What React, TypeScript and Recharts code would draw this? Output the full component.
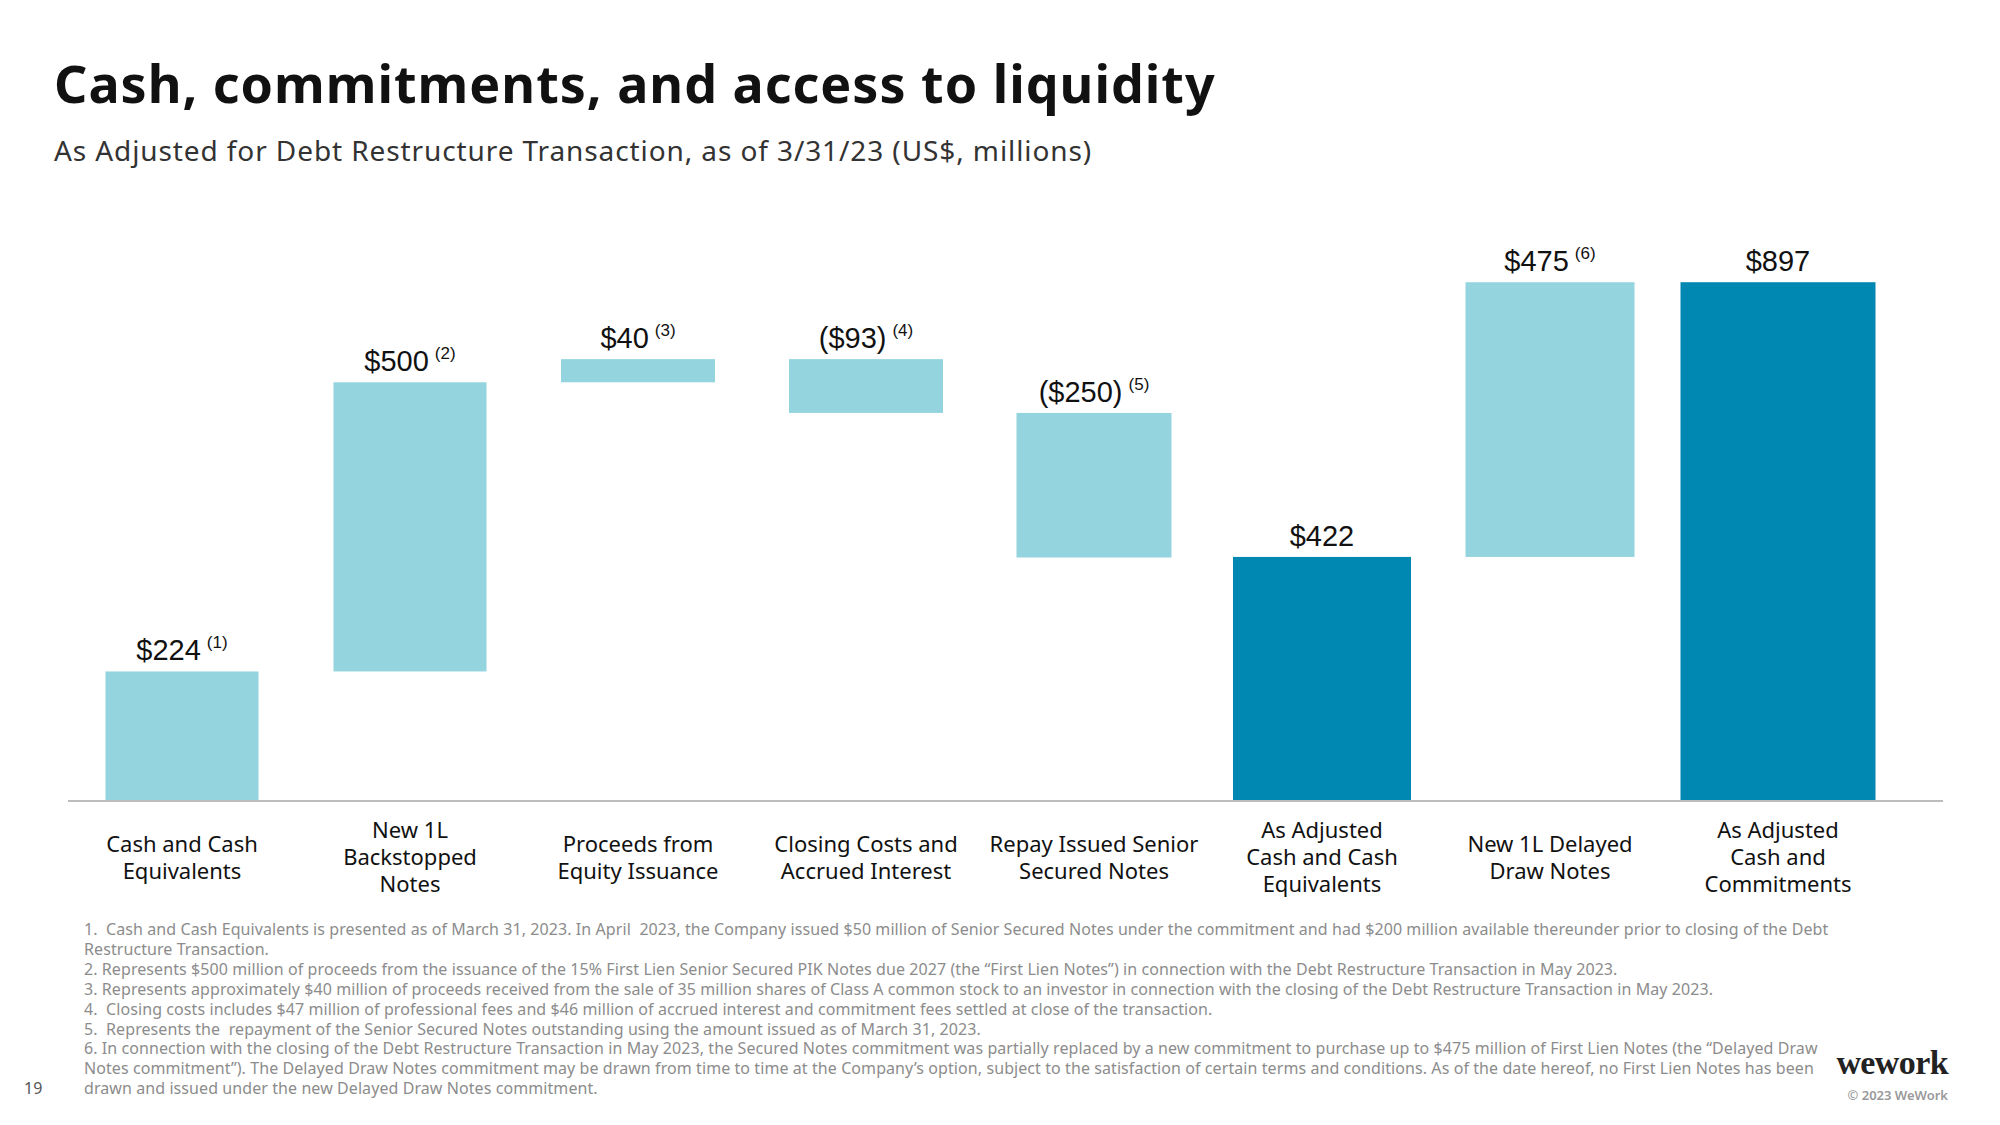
import React from "react";
import { BarChart, Bar, XAxis, YAxis, LabelList } from "recharts";

// Waterfall values, US$ millions, as of 3/31/23
const categories = [
  "Cash and Cash\nEquivalents",
  "New 1L\nBackstopped\nNotes",
  "Proceeds from\nEquity Issuance",
  "Closing Costs and\nAccrued Interest",
  "Repay Issued Senior\nSecured Notes",
  "As Adjusted\nCash and Cash\nEquivalents",
  "New 1L Delayed\nDraw Notes",
  "As Adjusted\nCash and\nCommitments",
];
const amounts = [224, 500, 40, -93, -250, 422, 475, 897];
const kinds = ["start", "delta", "delta", "delta", "delta", "total", "delta", "total"];
const noteRefs = ["(1)", "(2)", "(3)", "(4)", "(5)", "", "(6)", ""];

const footnotes = [
  "1.  Cash and Cash Equivalents is presented as of March 31, 2023. In April  2023, the Company issued $50 million of Senior Secured Notes under the commitment and had $200 million available thereunder prior to closing of the Debt",
  "Restructure Transaction.",
  "2. Represents $500 million of proceeds from the issuance of the 15% First Lien Senior Secured PIK Notes due 2027 (the \u201cFirst Lien Notes\u201d) in connection with the Debt Restructure Transaction in May 2023.",
  "3. Represents approximately $40 million of proceeds received from the sale of 35 million shares of Class A common stock to an investor in connection with the closing of the Debt Restructure Transaction in May 2023.",
  "4.  Closing costs includes $47 million of professional fees and $46 million of accrued interest and commitment fees settled at close of the transaction.",
  "5.  Represents the  repayment of the Senior Secured Notes outstanding using the amount issued as of March 31, 2023.",
  "6. In connection with the closing of the Debt Restructure Transaction in May 2023, the Secured Notes commitment was partially replaced by a new commitment to purchase up to $475 million of First Lien Notes (the \u201cDelayed Draw",
  "Notes commitment\u201d). The Delayed Draw Notes commitment may be drawn from time to time at the Company\u2019s option, subject to the satisfaction of certain terms and conditions. As of the date hereof, no First Lien Notes has been",
  "drawn and issued under the new Delayed Draw Notes commitment.",
];

// styling
const LIGHT = "#94d4df";
const DARK = "#0088b2";
const barWidths = [153, 153, 154, 154, 155, 178, 169, 195];
const sans = "'Noto Sans', sans-serif";
const valueFont = "'Liberation Sans', Arial, sans-serif";

let running = 0;
const rows = categories.map((name, i) => {
  const v = amounts[i];
  if (kinds[i] !== "delta") {
    running = v;
    return { name, idx: i, base: 0, size: v };
  }
  const start = running;
  running += v;
  return { name, idx: i, base: Math.min(start, running), size: Math.abs(v) };
});

const fmt = (v: number) => (v < 0 ? `($${-v})` : `$${v}`);

const BarShape = (props: any) => {
  const { x, y, width, height, payload } = props;
  const i = payload.idx;
  const w = barWidths[i];
  const cx = x + width / 2;
  return (
    <rect
      x={cx - w / 2}
      y={y}
      width={w}
      height={height}
      fill={kinds[i] === "total" ? DARK : LIGHT}
    />
  );
};

const ValueLabel = (props: any) => {
  const { x, y, width, value } = props;
  const i = value as number;
  return (
    <text
      x={x + width / 2}
      y={y - 11}
      textAnchor="middle"
      fontFamily={valueFont}
      fontSize={29}
      fill="#111"
    >
      <tspan>{fmt(amounts[i])}</tspan>
      {noteRefs[i] && (
        <tspan dx={6} dy={-12} fontSize={17}>
          {noteRefs[i]}
        </tspan>
      )}
    </text>
  );
};

const CategoryTick = (props: any) => {
  const { x, y, payload } = props;
  const lines = String(payload.value).split("\n");
  const lineH = 27;
  const first = y + 56 - ((lines.length - 1) * lineH) / 2;
  return (
    <text textAnchor="middle" fontFamily={sans} fontSize={22} fill="#111">
      {lines.map((l, k) => (
        <tspan key={k} x={x} y={first + k * lineH}>
          {l}
        </tspan>
      ))}
    </text>
  );
};

export default function App() {
  return (
    <div
      style={{
        position: "absolute",
        left: 0,
        top: 0,
        width: 2000,
        height: 1125,
        background: "#fff",
        overflow: "hidden",
      }}
    >
      <svg
        width={2000}
        height={1125}
        style={{ position: "absolute", left: 0, top: 0 }}
      >
        <text
          x={54}
          y={103}
          fontFamily={sans}
          fontWeight={700}
          fontSize={52}
          letterSpacing={1}
          fill="#111"
        >
          Cash, commitments, and access to liquidity
        </text>
        <text
          x={54}
          y={161}
          fontFamily={sans}
          fontSize={28}
          letterSpacing={0.9}
          fill="#333"
        >
          As Adjusted for Debt Restructure Transaction, as of 3/31/23 (US$, millions)
        </text>
        {footnotes.map((f, k) => (
          <text
            key={k}
            x={84}
            y={935 + k * 19.9}
            fontFamily={sans}
            fontSize={16}
            letterSpacing={0.08}
            fill="#8c8c8c"
            style={{ whiteSpace: "pre" }}
          >
            {f}
          </text>
        ))}
        <text x={24} y={1094} fontFamily={sans} fontSize={16} fill="#555">
          19
        </text>
        <text
          x={1948}
          y={1074}
          textAnchor="end"
          fontFamily="'Liberation Serif', serif"
          fontWeight={700}
          fontSize={34}
          letterSpacing={-0.6}
          fill="#222"
        >
          wework
        </text>
        <text
          x={1948}
          y={1100}
          textAnchor="end"
          fontFamily={sans}
          fontWeight={600}
          fontSize={13}
          fill="#999"
        >
          © 2023 WeWork
        </text>
      </svg>
      <div style={{ position: "absolute", left: 0, top: 0 }}>
        <BarChart
          width={2000}
          height={1125}
          data={rows}
          margin={{ top: 240, right: 57, bottom: 204, left: 68 }}
          barSize={154}
        >
          <XAxis
            dataKey="name"
            interval={0}
            height={120}
            tickLine={false}
            axisLine={{ stroke: "#bdbdbd", strokeWidth: 2 }}
            padding={{ left: 0, right: 51 }}
            tick={<CategoryTick />}
          />
          <YAxis hide domain={[0, 970]} />
          <Bar dataKey="base" stackId="w" fill="transparent" isAnimationActive={false} />
          <Bar dataKey="size" stackId="w" shape={<BarShape />} isAnimationActive={false}>
            <LabelList dataKey="idx" content={<ValueLabel />} />
          </Bar>
        </BarChart>
      </div>
    </div>
  );
}
